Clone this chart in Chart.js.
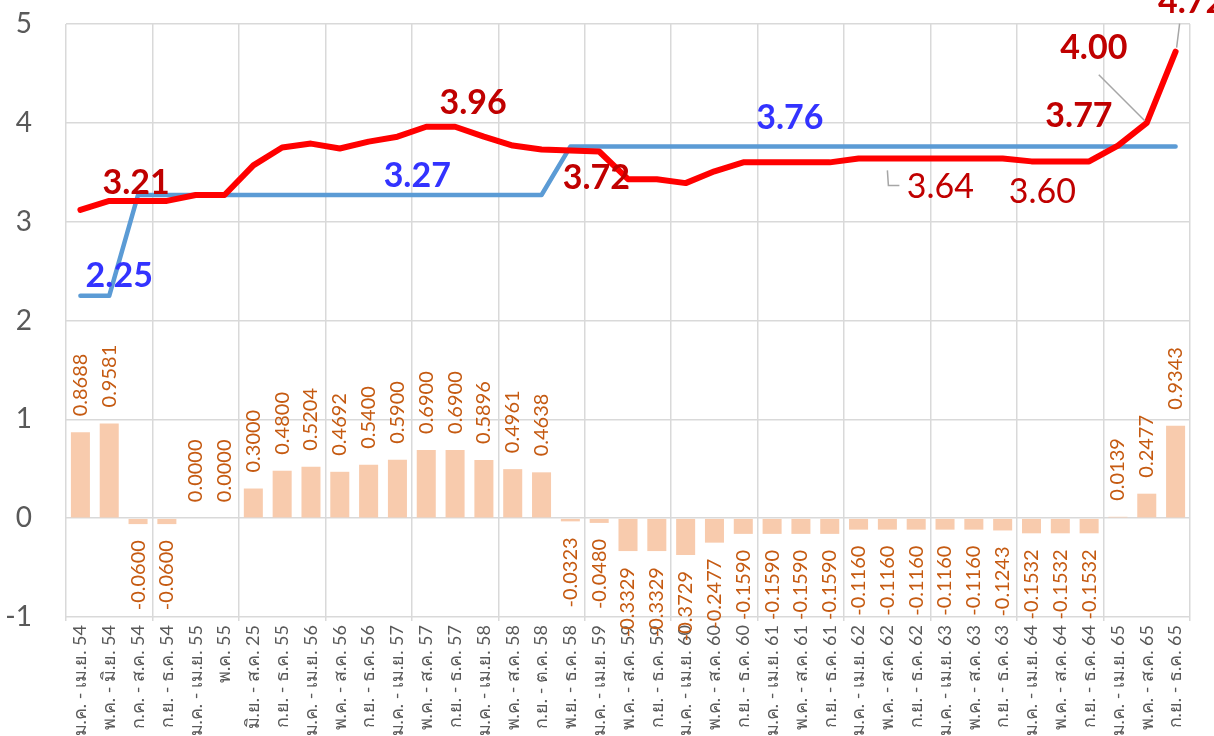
<!DOCTYPE html>
<html>
<head>
<meta charset="utf-8">
<script src="https://cdn.jsdelivr.net/npm/chart.js@4"></script>
<style>
  html, body { margin: 0; padding: 0; background: #ffffff; overflow: hidden; }
  #wrap { width: 1214px; height: 736px; }
</style>
</head>
<body>
<div id="wrap"><canvas id="rate-chart"></canvas></div>
<script>
const labels = [
  "ม.ค. - เม.ย. 54", "พ.ค. - มิ.ย. 54", "ก.ค. - ส.ค. 54", "ก.ย. - ธ.ค. 54",
  "ม.ค. - เม.ย. 55", "พ.ค. 55", "มิ.ย. - ส.ค. 25", "ก.ย. - ธ.ค. 55",
  "ม.ค. - เม.ย. 56", "พ.ค. - ส.ค. 56", "ก.ย. - ธ.ค. 56",
  "ม.ค. - เม.ย. 57", "พ.ค. - ส.ค. 57", "ก.ย. - ธ.ค. 57",
  "ม.ค. - เม.ย. 58", "พ.ค. - ส.ค. 58", "ก.ย. - ต.ค. 58", "พ.ย. - ธ.ค. 58",
  "ม.ค. - เม.ย. 59", "พ.ค. - ส.ค. 59", "ก.ย. - ธ.ค. 59",
  "ม.ค. - เม.ย. 60", "พ.ค. - ส.ค. 60", "ก.ย. - ธ.ค. 60",
  "ม.ค. - เม.ย. 61", "พ.ค. - ส.ค. 61", "ก.ย. - ธ.ค. 61",
  "ม.ค. - เม.ย. 62", "พ.ค. - ส.ค. 62", "ก.ย. - ธ.ค. 62",
  "ม.ค. - เม.ย. 63", "พ.ค. - ส.ค. 63", "ก.ย. - ธ.ค. 63",
  "ม.ค. - เม.ย. 64", "พ.ค. - ส.ค. 64", "ก.ย. - ธ.ค. 64",
  "ม.ค. - เม.ย. 65", "พ.ค. - ส.ค. 65", "ก.ย. - ธ.ค. 65",
];

const spreadValues = [
  0.8688, 0.9581, -0.06, -0.06, 0.0, 0.0, 0.3, 0.48, 0.5204, 0.4692,
  0.54, 0.59, 0.69, 0.69, 0.5896, 0.4961, 0.4638, -0.0323, -0.048, -0.3329,
  -0.3329, -0.3729, -0.2477, -0.159, -0.159, -0.159, -0.159, -0.116, -0.116, -0.116,
  -0.116, -0.116, -0.1243, -0.1532, -0.1532, -0.1532, 0.0139, 0.2477, 0.9343,
];

const blueValues = [
  2.25, 2.25, 3.27, 3.27, 3.27, 3.27, 3.27, 3.27, 3.27, 3.27,
  3.27, 3.27, 3.27, 3.27, 3.27, 3.27, 3.27, 3.76, 3.76, 3.76,
  3.76, 3.76, 3.76, 3.76, 3.76, 3.76, 3.76, 3.76, 3.76, 3.76,
  3.76, 3.76, 3.76, 3.76, 3.76, 3.76, 3.76, 3.76, 3.76,
];

const redValues = [
  3.12, 3.21, 3.21, 3.21, 3.27, 3.27, 3.57, 3.75, 3.79, 3.74,
  3.81, 3.86, 3.96, 3.96, 3.86, 3.77, 3.73, 3.72, 3.71, 3.43,
  3.43, 3.39, 3.51, 3.60, 3.60, 3.60, 3.60, 3.64, 3.64, 3.64,
  3.64, 3.64, 3.64, 3.61, 3.61, 3.61, 3.77, 4.00, 4.72,
];

const yTicks = [-1, 0, 1, 2, 3, 4, 5];

const FONT = "Lato, 'Noto Sans', sans-serif";
const GRID = "#d9d9d9";

// callouts: which series/point they belong to, offset of the label centre
const callouts = [
  { series: "blue", index: 1, text: "2.25", dx: 10, dy: -20, bold: true },
  { series: "blue", index: 12, text: "3.27", dx: -9, dy: -19, bold: true },
  { series: "blue", index: 25, text: "3.76", dx: -11, dy: -29, bold: true },
  { series: "red", index: 2, text: "3.21", dx: -2, dy: -18, bold: true },
  { series: "red", index: 13, text: "3.96", dx: 18, dy: -24, bold: true },
  { series: "red", index: 17, text: "3.72", dx: 26, dy: 28, bold: true },
  { series: "red", index: 28, text: "3.64", dx: 53, dy: 29, bold: false,
    leader: [[0, 12], [1, 27], [12, 27]] },
  { series: "red", index: 34, text: "3.60", dx: -18, dy: 31, bold: false },
  { series: "red", index: 36, text: "3.77", dx: -39, dy: -30, bold: true },
  { series: "red", index: 37, text: "4.00", dx: -53, dy: -75, bold: true,
    leader: [[-2, -2], [-48, -48]] },
  { series: "red", index: 38, text: "4.72", dx: 16, dy: -50, bold: true,
    leader: [[1, -4], [4, -28]] },
];

const chartLabels = {
  id: "chartLabels",
  afterDatasetsDraw(chart) {
    const { ctx, scales } = chart;
    const x = scales.x;
    const y = scales.y;
    ctx.save();

    // rotated value labels over / under the bars
    const bars = chart.getDatasetMeta(2).data;
    ctx.font = "20px " + FONT;
    ctx.fillStyle = "#c55a11";
    ctx.textBaseline = "middle";
    bars.forEach((bar, i) => {
      const v = spreadValues[i];
      const txt = v.toFixed(4);
      ctx.save();
      if (v >= 0) {
        ctx.translate(bar.x, bar.y - 16);
        ctx.rotate(-Math.PI / 2);
        ctx.textAlign = "left";
      } else {
        ctx.translate(bar.x, bar.y + 16);
        ctx.rotate(-Math.PI / 2);
        ctx.textAlign = "right";
      }
      ctx.fillText(txt, 0, 0);
      ctx.restore();
    });

    // callouts on the two lines
    callouts.forEach((c) => {
      const vals = c.series === "blue" ? blueValues : redValues;
      const px = x.getPixelForValue(c.index);
      const py = y.getPixelForValue(vals[c.index]);
      if (c.leader) {
        ctx.strokeStyle = "#a6a6a6";
        ctx.lineWidth = 1.5;
        ctx.beginPath();
        c.leader.forEach((p, k) => {
          if (k === 0) ctx.moveTo(px + p[0], py + p[1]);
          else ctx.lineTo(px + p[0], py + p[1]);
        });
        ctx.stroke();
      }
      ctx.font = (c.bold ? "bold " : "") + "34px " + FONT;
      ctx.fillStyle = c.series === "blue" ? "#3333ff" : "#c00000";
      ctx.textAlign = "center";
      ctx.textBaseline = "middle";
      ctx.fillText(c.text, px + c.dx, py + c.dy);
    });

    ctx.restore();
  },
};

new Chart(document.getElementById("rate-chart"), {
  data: {
    labels: labels,
    datasets: [
      {
        type: "line",
        label: "red",
        data: redValues,
        borderColor: "#ff0000",
        borderWidth: 6,
        pointRadius: 0,
        tension: 0,
        borderCapStyle: "round",
        borderJoinStyle: "round",
        order: 0,
      },
      {
        type: "line",
        label: "blue",
        data: blueValues,
        borderColor: "#5b9bd5",
        borderWidth: 4.5,
        pointRadius: 0,
        tension: 0,
        borderCapStyle: "round",
        borderJoinStyle: "round",
        order: 1,
      },
      {
        type: "bar",
        label: "spread",
        data: spreadValues,
        backgroundColor: "#f8cbad",
        barPercentage: 0.66,
        categoryPercentage: 1,
        order: 2,
      },
    ],
  },
  options: {
    responsive: true,
    maintainAspectRatio: false,
    animation: false,
    layout: { padding: { top: 24, right: 24, bottom: 0, left: 0 } },
    plugins: {
      legend: { display: false },
      tooltip: { enabled: false },
    },
    scales: {
      x: {
        offset: true,
        afterFit(scale) {
          scale.height = 119;
          scale.paddingTop = 0;
          scale.paddingBottom = 0;
        },
        grid: {
          offset: true,
          lineWidth: 1.5,
          tickLength: 4,
          color: (c) => (c.index === undefined || c.index % 3 === 0 ? GRID : "rgba(0,0,0,0)"),
        },
        border: { display: false },
        ticks: {
          autoSkip: false,
          minRotation: 90,
          maxRotation: 90,
          padding: 4,
          color: "#595959",
          font: { family: FONT, size: 18 },
        },
      },
      y: {
        min: -1,
        max: 5,
        afterFit(scale) {
          scale.width = 66;
          scale.paddingTop = 0;
          scale.paddingBottom = 0;
        },
        afterBuildTicks(scale) {
          scale.ticks = yTicks.map((v) => ({ value: v }));
        },
        grid: { color: GRID, lineWidth: 1.5, drawTicks: false },
        border: { display: false },
        ticks: {
          padding: 34,
          color: "#595959",
          font: { family: FONT, size: 28 },
        },
      },
    },
  },
  plugins: [chartLabels],
});
</script>
</body>
</html>
